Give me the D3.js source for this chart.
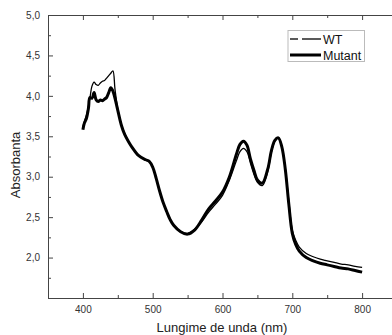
<!DOCTYPE html>
<html>
<head>
<meta charset="utf-8">
<script src="https://cdn.jsdelivr.net/npm/d3@7"></script>
<style>
    body { margin: 0; background: #fff; }
    text { font-family: 'Liberation Sans', Arial, sans-serif; }
</style>
</head>
<body>
<svg id="chart" width="392" height="335"></svg>
<script>
// data
let wavelength = [400, 402, 405, 408, 410, 413, 416, 419, 422, 425, 428, 431, 434, 437, 440, 443, 446, 450,
    455, 460, 465, 470, 480, 490, 495, 500, 505, 510, 515, 520, 525, 530, 540, 550, 560, 570, 580, 590,
    600, 610, 620, 625, 630, 635, 640, 645, 650, 657, 665, 670, 675, 680, 685, 690, 695, 700, 705, 710,
    720, 730, 740, 750, 760, 770, 780, 790, 800]
let mutant = [3.58, 3.66, 3.72, 3.85, 3.98, 3.97, 4.04, 3.95, 3.93, 3.95, 3.94, 3.96, 3.98, 4.04, 4.10, 4.06, 3.97, 3.82,
    3.64, 3.52, 3.44, 3.37, 3.26, 3.21, 3.19, 3.12, 2.98, 2.82, 2.68, 2.57, 2.47, 2.40, 2.32, 2.29, 2.34, 2.46, 2.60, 2.70,
    2.81, 3.00, 3.28, 3.40, 3.44, 3.39, 3.22, 3.08, 2.96, 2.92, 3.10, 3.32, 3.45, 3.48, 3.37, 3.09, 2.66, 2.30, 2.16, 2.08,
    2.00, 1.96, 1.93, 1.91, 1.89, 1.87, 1.86, 1.84, 1.82]
let wt = [3.62, 3.68, 3.76, 3.88, 3.97, 4.12, 4.17, 4.14, 4.13, 4.16, 4.18, 4.19, 4.22, 4.25, 4.28, 4.31, 4.08, 3.84,
    3.65, 3.53, 3.44, 3.37, 3.26, 3.21, 3.19, 3.12, 2.98, 2.82, 2.68, 2.57, 2.47, 2.40, 2.32, 2.30, 2.35, 2.44, 2.56, 2.66,
    2.77, 2.96, 3.20, 3.31, 3.35, 3.31, 3.17, 3.03, 2.93, 2.89, 3.07, 3.30, 3.44, 3.48, 3.37, 3.10, 2.70, 2.34, 2.21, 2.13,
    2.05, 2.01, 1.98, 1.96, 1.94, 1.92, 1.91, 1.89, 1.88]
let xTicks = [400, 500, 600, 700, 800]
let xMinor = [450, 550, 650, 750]
let yTicks = [2.0, 2.5, 3.0, 3.5, 4.0, 4.5, 5.0]
let yMinor = [1.75, 2.25, 2.75, 3.25, 3.75, 4.25, 4.75]

let mLeft = 48, mTop = 15, mBottom = 298, mRight = 397
let svg = d3.select('#chart')
let xScale = d3.scaleLinear().domain([350, 850]).range([mLeft, mRight])
let yScale = d3.scaleLinear().domain([1.5, 5.0]).range([mBottom, mTop])
let fmt = d => d3.format('.1f')(d).replace('.', ',')

// axes, ticks pointing inward
function styleAxis(g) {
    g.selectAll('path, line').attr('stroke', '#444').attr('stroke-width', 1)
    g.selectAll('text').attr('fill', '#333').attr('font-size', '10px')
        .attr('font-family', "'Liberation Sans', Arial, sans-serif")
}
svg.append('g').attr('transform', 'translate(0,' + mBottom + ')')
    .call(d3.axisBottom(xScale).tickValues(xTicks).tickSizeInner(-5).tickSizeOuter(0).tickPadding(8))
    .call(styleAxis)
svg.append('g').attr('transform', 'translate(0,' + mBottom + ')')
    .call(d3.axisBottom(xScale).tickValues(xMinor).tickSize(-3).tickFormat(''))
    .call(styleAxis)
svg.append('g').attr('transform', 'translate(0,' + mTop + ')')
    .call(d3.axisTop(xScale).tickValues(xTicks).tickSizeInner(-5).tickSizeOuter(0).tickFormat(''))
    .call(styleAxis)
svg.append('g').attr('transform', 'translate(0,' + mTop + ')')
    .call(d3.axisTop(xScale).tickValues(xMinor).tickSize(-3).tickFormat(''))
    .call(styleAxis)
svg.append('g').attr('transform', 'translate(' + mLeft + ',0)')
    .call(d3.axisLeft(yScale).tickValues(yTicks).tickSizeInner(-5).tickSizeOuter(0).tickPadding(8).tickFormat(fmt))
    .call(styleAxis)
svg.append('g').attr('transform', 'translate(' + mLeft + ',0)')
    .call(d3.axisLeft(yScale).tickValues(yMinor).tickSize(-3).tickFormat(''))
    .call(styleAxis)
svg.append('g').attr('transform', 'translate(' + mRight + ',0)')
    .call(d3.axisRight(yScale).tickValues(yTicks).tickSizeInner(-5).tickSizeOuter(0).tickFormat(''))
    .call(styleAxis)

// titles
svg.append('text').attr('x', 222).attr('y', 332).attr('text-anchor', 'middle')
    .attr('font-size', '13px').attr('fill', '#222').text('Lungime de unda (nm)')
svg.append('text').attr('transform', 'translate(19.5,165) rotate(-90)').attr('text-anchor', 'middle')
    .attr('font-size', '13px').attr('fill', '#222').text('Absorbanta')

// curves
let line = d3.line().x(d => xScale(d[0])).y(d => yScale(d[1])).curve(d3.curveCatmullRom)
svg.append('path').datum(wavelength.map((w, i) => [w, mutant[i]]))
    .attr('d', line).attr('fill', 'none').attr('stroke', '#000').attr('stroke-width', 3)
svg.append('path').datum(wavelength.map((w, i) => [w, wt[i]]))
    .attr('d', line).attr('fill', 'none').attr('stroke', '#000').attr('stroke-width', 1.3)

// legend
let legend = svg.append('g')
legend.append('rect').attr('x', 288).attr('y', 30.5).attr('width', 76.5).attr('height', 31)
    .attr('fill', '#fff').attr('stroke', '#bbb').attr('stroke-width', 1)
legend.append('line').attr('x1', 290).attr('x2', 298).attr('y1', 39).attr('y2', 39)
    .attr('stroke', '#000').attr('stroke-width', 1.3)
legend.append('line').attr('x1', 302).attr('x2', 321).attr('y1', 39).attr('y2', 39)
    .attr('stroke', '#000').attr('stroke-width', 1.3)
legend.append('line').attr('x1', 290).attr('x2', 321).attr('y1', 55).attr('y2', 55)
    .attr('stroke', '#000').attr('stroke-width', 3)
legend.append('text').attr('x', 323).attr('y', 43.5).attr('font-size', '12.5px').attr('fill', '#111').text('WT')
legend.append('text').attr('x', 323).attr('y', 59.5).attr('font-size', '12.5px').attr('fill', '#111').text('Mutant')
</script>
</body>
</html>
